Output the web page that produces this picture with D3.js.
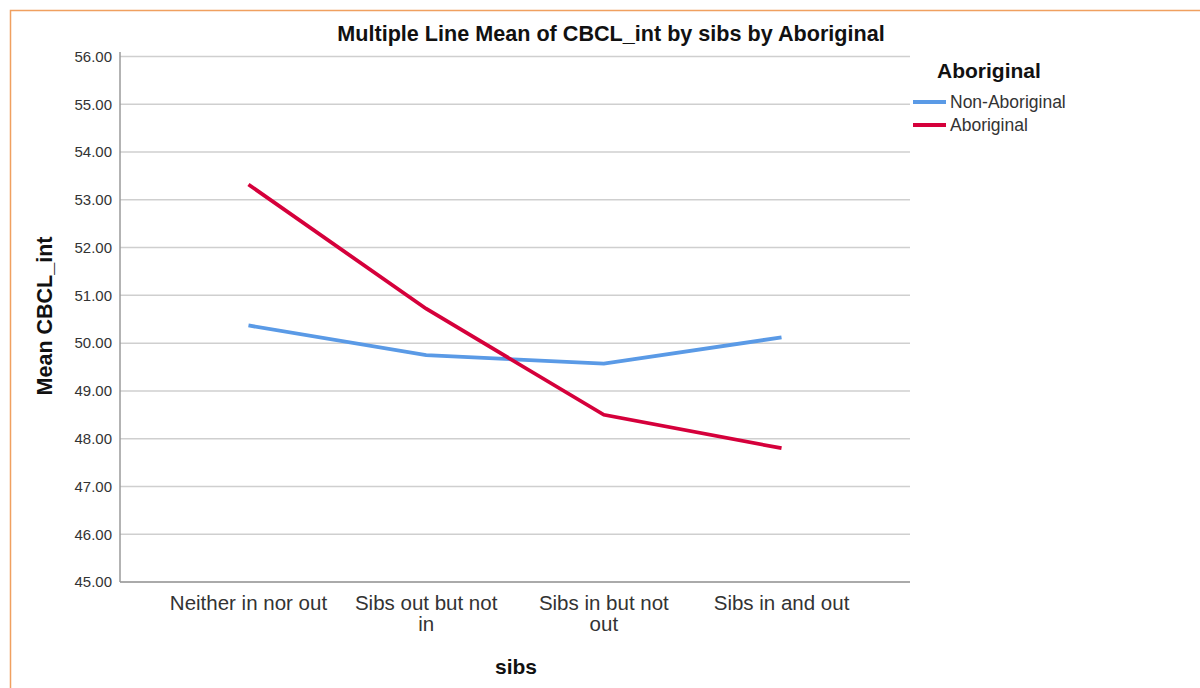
<!DOCTYPE html>
<html>
<head>
<meta charset="utf-8">
<script src="https://cdn.jsdelivr.net/npm/d3@7"></script>
<style>
  body { margin: 0; background: #fff; }
  svg { font-family: "Liberation Sans", Arial, sans-serif; }
</style>
</head>
<body>
<svg width="1200" height="688"></svg>
<script>
// chart values
var categories = [["Neither in nor out"], ["Sibs out but not", "in"], ["Sibs in but not", "out"], ["Sibs in and out"]];
var seriesNames = ["Non-Aboriginal", "Aboriginal"];
var nonAboriginal = [50.37, 49.75, 49.57, 50.12];
var aboriginal = [53.32, 50.72, 48.50, 47.80];
var yTicks = [45, 46, 47, 48, 49, 50, 51, 52, 53, 54, 55, 56];
var colors = ["#5a9ae6", "#d5003b"];

var svg = d3.select("svg");

// orange frame
svg.append("rect")
  .attr("x", 10.5).attr("y", 10.5)
  .attr("width", 1200).attr("height", 700)
  .attr("fill", "none")
  .attr("stroke", "#f0a060")
  .attr("stroke-width", 1.5);

var pLeft = 120, pRight = 910, pTop = 56.5, pBottom = 582;

var x = d3.scalePoint()
  .domain(d3.range(categories.length))
  .range([pLeft, pRight])
  .padding(0.723);

var y = d3.scaleLinear()
  .domain([45, 56])
  .range([pBottom, pTop]);

// gridlines
svg.append("g")
  .selectAll("line")
  .data(yTicks)
  .enter().append("line")
  .attr("x1", pLeft).attr("x2", pRight)
  .attr("y1", function(d) { return y(d); })
  .attr("y2", function(d) { return y(d); })
  .attr("stroke", "#cfcfcf")
  .attr("stroke-width", 1.5);

// y axis
var yAxis = svg.append("g")
  .attr("transform", "translate(" + pLeft + ",0)")
  .call(d3.axisLeft(y).tickValues(yTicks).tickSize(0).tickPadding(8).tickFormat(d3.format(".2f")));
yAxis.select(".domain").remove();
yAxis.selectAll("text").attr("font-size", 15).attr("fill", "#333").attr("font-family", "Liberation Sans, Arial, sans-serif");

svg.append("line")
  .attr("x1", pLeft).attr("x2", pLeft)
  .attr("y1", 52).attr("y2", pBottom)
  .attr("stroke", "#9a9a9a").attr("stroke-width", 1.5);
svg.append("line")
  .attr("x1", pLeft).attr("x2", pRight)
  .attr("y1", pBottom).attr("y2", pBottom)
  .attr("stroke", "#9a9a9a").attr("stroke-width", 1.5);

// x labels
var xl = svg.append("g").selectAll("text")
  .data(categories)
  .enter().append("text")
  .attr("x", function(d, i) { return x(i); })
  .attr("y", 610)
  .attr("text-anchor", "middle")
  .attr("font-size", 20.5)
  .attr("fill", "#333");
xl.selectAll("tspan")
  .data(function(d) { return d; })
  .enter().append("tspan")
  .attr("x", function() { return d3.select(this.parentNode).attr("x"); })
  .attr("dy", function(d, i) { return i ? 21 : 0; })
  .text(function(d) { return d; });

// lines
var line = d3.line()
  .x(function(d, i) { return x(i); })
  .y(function(d) { return y(d); });

[nonAboriginal, aboriginal].forEach(function(s, k) {
  svg.append("path")
    .datum(s)
    .attr("d", line)
    .attr("fill", "none")
    .attr("stroke", colors[k])
    .attr("stroke-width", 3.8);
});

// title
svg.append("text")
  .attr("x", 611).attr("y", 41)
  .attr("text-anchor", "middle")
  .attr("font-size", 21.6)
  .attr("font-weight", "bold")
  .attr("fill", "#111")
  .text("Multiple Line Mean of CBCL_int by sibs by Aboriginal");

// axis titles
svg.append("text")
  .attr("x", 516).attr("y", 674)
  .attr("text-anchor", "middle")
  .attr("font-size", 21)
  .attr("font-weight", "bold")
  .attr("fill", "#111")
  .text("sibs");

svg.append("text")
  .attr("transform", "translate(52,316) rotate(-90)")
  .attr("text-anchor", "middle")
  .attr("font-size", 21.5)
  .attr("font-weight", "bold")
  .attr("fill", "#111")
  .text("Mean CBCL_int");

// legend
svg.append("text")
  .attr("x", 937).attr("y", 78)
  .attr("font-size", 21)
  .attr("font-weight", "bold")
  .attr("fill", "#111")
  .text("Aboriginal");

var lg = svg.append("g").selectAll("g")
  .data(seriesNames)
  .enter().append("g")
  .attr("transform", function(d, i) { return "translate(913," + (102 + i * 23) + ")"; });
lg.append("line")
  .attr("x1", 0).attr("x2", 33)
  .attr("stroke", function(d, i) { return colors[i]; })
  .attr("stroke-width", 3.8);
lg.append("text")
  .attr("x", 37).attr("y", 6)
  .attr("font-size", 17.5)
  .attr("fill", "#333")
  .text(function(d) { return d; });
</script>
</body>
</html>
